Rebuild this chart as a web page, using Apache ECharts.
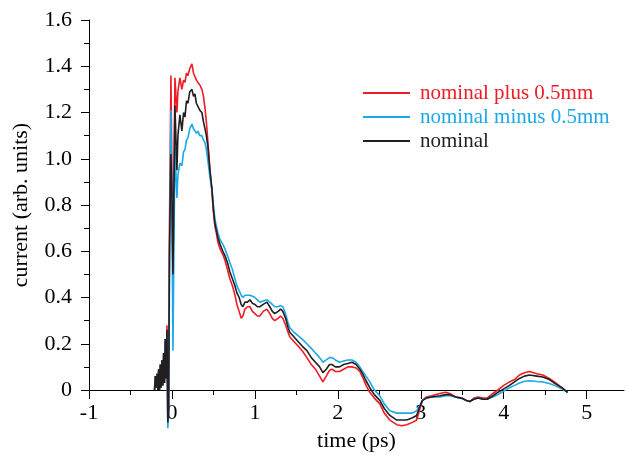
<!DOCTYPE html>
<html>
<head>
<meta charset="utf-8">
<script src="https://cdn.jsdelivr.net/npm/echarts@6/dist/echarts.min.js"></script>
<style>
html,body{margin:0;padding:0;background:#fff;}
#chart{width:626px;height:456px;}
</style>
</head>
<body>
<div id="chart"></div>
<script>
const seriesNames = ['nominal plus 0.5mm', 'nominal minus 0.5mm', 'nominal'];
const xTickValues = [-1, 0, 1, 2, 3, 4, 5];
const xMinorTickValues = [-0.5, 0.5, 1.5, 2.5, 3.5, 4.5];

const time = [
  -0.21,-0.2,-0.19,-0.18,-0.17,-0.16,-0.15,-0.14,-0.13,-0.12,
  -0.11,-0.1,-0.09,-0.08,-0.07,-0.06,-0.05,-0.04,-0.03,-0.012,
  0,0.012,0.036,0.06,0.072,0.096,0.12,0.14,0.157,0.175,
  0.193,0.215,0.241,0.26,0.277,0.295,0.313,0.335,0.361,0.38,
  0.398,0.415,0.434,0.458,0.482,0.5,0.518,0.535,0.554,0.58,
  0.614,0.64,0.67,0.699,0.73,0.76,0.783,0.81,0.835,0.855,
  0.88,0.91,0.94,0.97,1.0,1.03,1.06,1.1,1.145,1.18,
  1.21,1.24,1.28,1.31,1.337,1.37,1.4,1.42,1.47,1.52,
  1.57,1.627,1.68,1.73,1.78,1.82,1.86,1.9,1.93,1.97,
  2.02,2.07,2.12,2.17,2.22,2.265,2.3,2.34,2.385,2.44,
  2.506,2.56,2.627,2.71,2.77,2.83,2.9,2.95,2.99,3.02,
  3.07,3.13,3.23,3.3,3.35,3.42,3.49,3.55,3.59,3.64,
  3.69,3.75,3.8,3.87,3.93,4.0,4.07,4.13,4.19,4.25,
  4.31,4.4,4.47,4.55,4.61,4.7,4.77
];

const nominalPlus = [
  0,0.06,0.01,0.07,0,0.09,0,0.11,0.01,0.13,
  0.02,0.16,0.03,0.22,0.05,0.28,-0.13,-0.07,0.7,1.36,
  0.9,0.5,1.35,1.2,1.29,1.35,1.3,1.34,1.33,1.37,
  1.36,1.39,1.41,1.37,1.37,1.34,1.33,1.32,1.3,1.27,
  1.22,1.16,1.07,0.95,0.86,0.77,0.71,0.68,0.64,0.61,
  0.585,0.56,0.52,0.48,0.45,0.41,0.37,0.34,0.31,0.32,
  0.35,0.36,0.36,0.34,0.33,0.32,0.32,0.34,0.35,0.33,
  0.31,0.3,0.31,0.32,0.31,0.28,0.25,0.23,0.21,0.19,
  0.17,0.14,0.11,0.09,0.06,0.035,0.06,0.085,0.09,0.08,
  0.08,0.09,0.1,0.1,0.095,0.08,0.055,0.02,-0.01,-0.035,
  -0.06,-0.1,-0.13,-0.15,-0.155,-0.15,-0.14,-0.13,-0.08,-0.045,
  -0.03,-0.025,-0.015,-0.01,-0.015,-0.03,-0.035,-0.045,-0.05,-0.035,
  -0.03,-0.035,-0.035,-0.015,0,0.02,0.035,0.045,0.065,0.075,
  0.08,0.07,0.065,0.05,0.035,0.01,-0.01
];

const nominalMinus = [
  0,0.06,0.01,0.07,0,0.09,0,0.11,0.01,0.13,
  0.02,0.16,0.03,0.22,0.05,0.24,-0.165,-0.1,0.5,1.21,
  0.8,0.17,1.05,0.83,0.93,0.98,0.97,1.03,1.04,1.08,
  1.09,1.13,1.15,1.13,1.13,1.11,1.12,1.1,1.1,1.08,
  1.07,1.04,0.99,0.92,0.87,0.8,0.74,0.71,0.68,0.65,
  0.63,0.61,0.58,0.55,0.52,0.48,0.45,0.43,0.41,0.4,
  0.41,0.41,0.41,0.405,0.4,0.39,0.38,0.385,0.39,0.38,
  0.37,0.36,0.36,0.365,0.36,0.33,0.29,0.27,0.25,0.235,
  0.22,0.2,0.18,0.16,0.14,0.12,0.13,0.14,0.14,0.13,
  0.12,0.125,0.13,0.13,0.12,0.1,0.08,0.06,0.035,0,
  -0.025,-0.06,-0.09,-0.1,-0.1,-0.1,-0.1,-0.09,-0.065,-0.045,
  -0.035,-0.03,-0.03,-0.025,-0.025,-0.03,-0.035,-0.045,-0.05,-0.04,
  -0.035,-0.04,-0.04,-0.03,-0.02,-0.005,0.01,0.02,0.03,0.038,
  0.04,0.037,0.035,0.028,0.02,0.005,-0.01
];

const nominal = [
  0,0.06,0.01,0.07,0,0.09,0,0.11,0.01,0.13,
  0.02,0.16,0.03,0.22,0.05,0.26,-0.14,-0.08,0.6,1.02,
  0.85,0.5,1.23,0.95,1.1,1.19,1.12,1.2,1.18,1.25,
  1.24,1.29,1.3,1.27,1.28,1.24,1.24,1.21,1.2,1.16,
  1.13,1.1,1.05,0.95,0.87,0.78,0.72,0.69,0.66,0.63,
  0.6,0.58,0.55,0.51,0.48,0.45,0.42,0.4,0.37,0.36,
  0.38,0.38,0.39,0.375,0.37,0.36,0.36,0.37,0.38,0.36,
  0.34,0.33,0.34,0.35,0.34,0.31,0.27,0.25,0.23,0.21,
  0.19,0.17,0.14,0.12,0.1,0.075,0.09,0.11,0.11,0.1,
  0.1,0.11,0.115,0.12,0.11,0.09,0.07,0.04,0.01,-0.02,
  -0.045,-0.08,-0.11,-0.13,-0.13,-0.13,-0.12,-0.11,-0.07,-0.045,
  -0.035,-0.03,-0.025,-0.02,-0.02,-0.03,-0.035,-0.045,-0.05,-0.04,
  -0.035,-0.04,-0.04,-0.025,-0.01,0.005,0.02,0.035,0.05,0.06,
  0.065,0.06,0.056,0.045,0.03,0.01,-0.01
];

const colors = ['#ee1c25', '#1ba9e8', '#231f20'];
const values = [nominalPlus, nominalMinus, nominal];
const font = 'Liberation Serif';

const chart = echarts.init(document.getElementById('chart'), null, {renderer: 'canvas'});
chart.setOption({
  animation: false,
  backgroundColor: '#fff',
  grid: {left: 89, right: 2, top: 20, bottom: 66, containLabel: false, outerBoundsMode: 'none'},
  legend: {
    orient: 'vertical',
    left: 358,
    top: 76,
    itemWidth: 47,
    itemHeight: 2,
    itemGap: 0,
    icon: 'rect',
    textStyle: {fontFamily: font, fontSize: 21, lineHeight: 24, padding: [0, 0, 0, 5]},
    data: seriesNames.map((n, i) => ({name: n, itemStyle: {color: colors[i]}, textStyle: {color: colors[i]}}))
  },
  xAxis: [{
    type: 'value',
    min: -1,
    max: 5.45,
    interval: 1,
    name: 'time (ps)',
    nameLocation: 'middle',
    nameGap: 40,
    nameTextStyle: {fontFamily: font, fontSize: 22, color: '#000'},
    axisLine: {show: true, onZero: false, lineStyle: {color: '#000', width: 1}},
    axisTick: {show: true, inside: false, length: 9, customValues: xTickValues, lineStyle: {color: '#000'}},
    axisLabel: {fontFamily: font, fontSize: 22, color: '#000', margin: 12, customValues: xTickValues},
    splitLine: {show: false}
  }, {
    type: 'value',
    min: -1,
    max: 5.45,
    position: 'bottom',
    axisLine: {show: false, onZero: false},
    axisTick: {show: true, inside: false, length: 5, customValues: xMinorTickValues, lineStyle: {color: '#000'}},
    axisLabel: {show: false},
    splitLine: {show: false}
  }],
  yAxis: {
    type: 'value',
    min: 0,
    max: 1.6,
    interval: 0.2,
    name: 'current (arb. units)',
    nameLocation: 'middle',
    nameGap: 57,
    nameRotate: 90,
    nameTextStyle: {fontFamily: font, fontSize: 22, color: '#000'},
    axisLine: {show: true, onZero: false, lineStyle: {color: '#000', width: 1}},
    axisTick: {show: true, inside: false, length: 8, lineStyle: {color: '#000'}},
    minorTick: {show: true, splitNumber: 2, length: 5, lineStyle: {color: '#000'}},
    axisLabel: {fontFamily: font, fontSize: 22, color: '#000', margin: 17,
      formatter: v => (Math.abs(v) < 1e-9 ? '0' : v.toFixed(1))},
    splitLine: {show: false}
  },
  series: seriesNames.map((n, i) => ({
    name: n,
    type: 'line',
    xAxisIndex: 0,
    data: time.map((t, k) => [t, values[i][k]]),
    showSymbol: false,
    symbol: 'none',
    clip: false,
    lineStyle: {color: colors[i], width: 1.6},
    itemStyle: {color: colors[i]},
    z: 2 + i
  }))
});
</script>
</body>
</html>
